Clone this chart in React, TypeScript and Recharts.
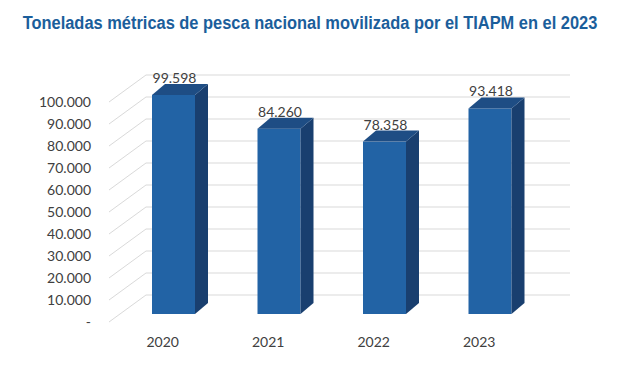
import React from 'react';
import { BarChart, Bar, XAxis, YAxis, CartesianGrid, LabelList } from 'recharts';

const years = ['2020', '2021', '2022', '2023'];
const tonnes = [99598, 84260, 78358, 93418];
const yTicks = [0, 10000, 20000, 30000, 40000, 50000, 60000, 70000, 80000, 90000, 100000];

const data = years.map((year, i) => ({ year, value: tonnes[i] }));

// desplazamiento de profundidad (efecto 3D estilo Excel)
const DEPTH_X = 13;
const DEPTH_Y = -11;
const WALL_X = 25;
const WALL_Y = -19;
const FRONT_X = -12;
const FRONT_Y = 8;
const WALL_RIGHT = 570;

const fmt = (v: number) => (v === 0 ? '-' : v.toString().replace(/\B(?=(\d{3})+(?!\d))/g, '.'));

const Bar3D = (props: any) => {
  const { x, y, width, height } = props;
  if (width == null || height == null) return null;
  return (
    <g>
      <rect x={x} y={y} width={width} height={height} fill="#2263A5" />
      <polygon
        points={`${x + width},${y} ${x + width + DEPTH_X},${y + DEPTH_Y} ${x + width + DEPTH_X},${y + height + DEPTH_Y} ${x + width},${y + height}`}
        fill="#193F6F"
      />
      <polygon
        points={`${x},${y} ${x + DEPTH_X},${y + DEPTH_Y} ${x + width + DEPTH_X},${y + DEPTH_Y} ${x + width},${y}`}
        fill="#1E4D84"
      />
    </g>
  );
};

const gridLine = (props: any) => {
  const { x1, y1, index } = props;
  return (
    <g key={`g-${index}-${y1}`}>
      <line x1={x1 + WALL_X} y1={y1 + WALL_Y} x2={WALL_RIGHT} y2={y1 + WALL_Y} stroke="#D9D9D9" strokeWidth={1} />
      <line x1={x1 + FRONT_X} y1={y1 + FRONT_Y} x2={x1 + WALL_X} y2={y1 + WALL_Y} stroke="#D9D9D9" strokeWidth={1} />
    </g>
  );
};

const YTick = (props: any) => {
  const { y, payload } = props;
  return (
    <text x={91} y={y + FRONT_Y + 5} textAnchor="end" fill="#404040" fontSize={14} fontFamily="Lato, 'Open Sans', sans-serif">
      {fmt(payload.value)}
    </text>
  );
};

const XTick = (props: any) => {
  const { x, payload } = props;
  return (
    <text x={x - 11} y={347} textAnchor="middle" fill="#404040" fontSize={14} fontFamily="Lato, 'Open Sans', sans-serif">
      {payload.value}
    </text>
  );
};

const ValueLabel = (props: any) => {
  const { x, y, width, value } = props;
  return (
    <text x={x + width / 2 + 1} y={y - 12} textAnchor="middle" fill="#404040" fontSize={14} fontFamily="Lato, 'Open Sans', sans-serif">
      {fmt(value)}
    </text>
  );
};

export default function App() {
  return (
    <div style={{ position: 'absolute', left: 0, top: 0, width: 620, height: 366, background: '#fff' }}>
      <svg width={620} height={40} style={{ position: 'absolute', left: 0, top: 0 }}>
        <text
          transform="translate(310,29) scale(0.865,1)"
          textAnchor="middle"
          fill="#1B5E9B"
          fontFamily="'Liberation Sans', Arial, sans-serif"
          fontWeight="bold"
          fontSize={19}
        >
          Toneladas métricas de pesca nacional movilizada por el TIAPM en el 2023
        </text>
      </svg>
      <div style={{ position: 'absolute', left: 0, top: 0 }}>
        <BarChart width={620} height={366} data={data} margin={{ top: 94, right: 77, bottom: 0, left: 0 }}>
          <CartesianGrid vertical={false} horizontal={gridLine} />
          <YAxis
            domain={[0, 100000]}
            ticks={yTicks}
            width={121}
            axisLine={false}
            tickLine={false}
            tick={<YTick />}
            interval={0}
          />
          <XAxis dataKey="year" height={52} axisLine={false} tickLine={false} tick={<XTick />} />
          <Bar dataKey="value" barSize={43} shape={<Bar3D />} isAnimationActive={false}>
            <LabelList dataKey="value" content={<ValueLabel />} />
          </Bar>
        </BarChart>
      </div>
    </div>
  );
}
